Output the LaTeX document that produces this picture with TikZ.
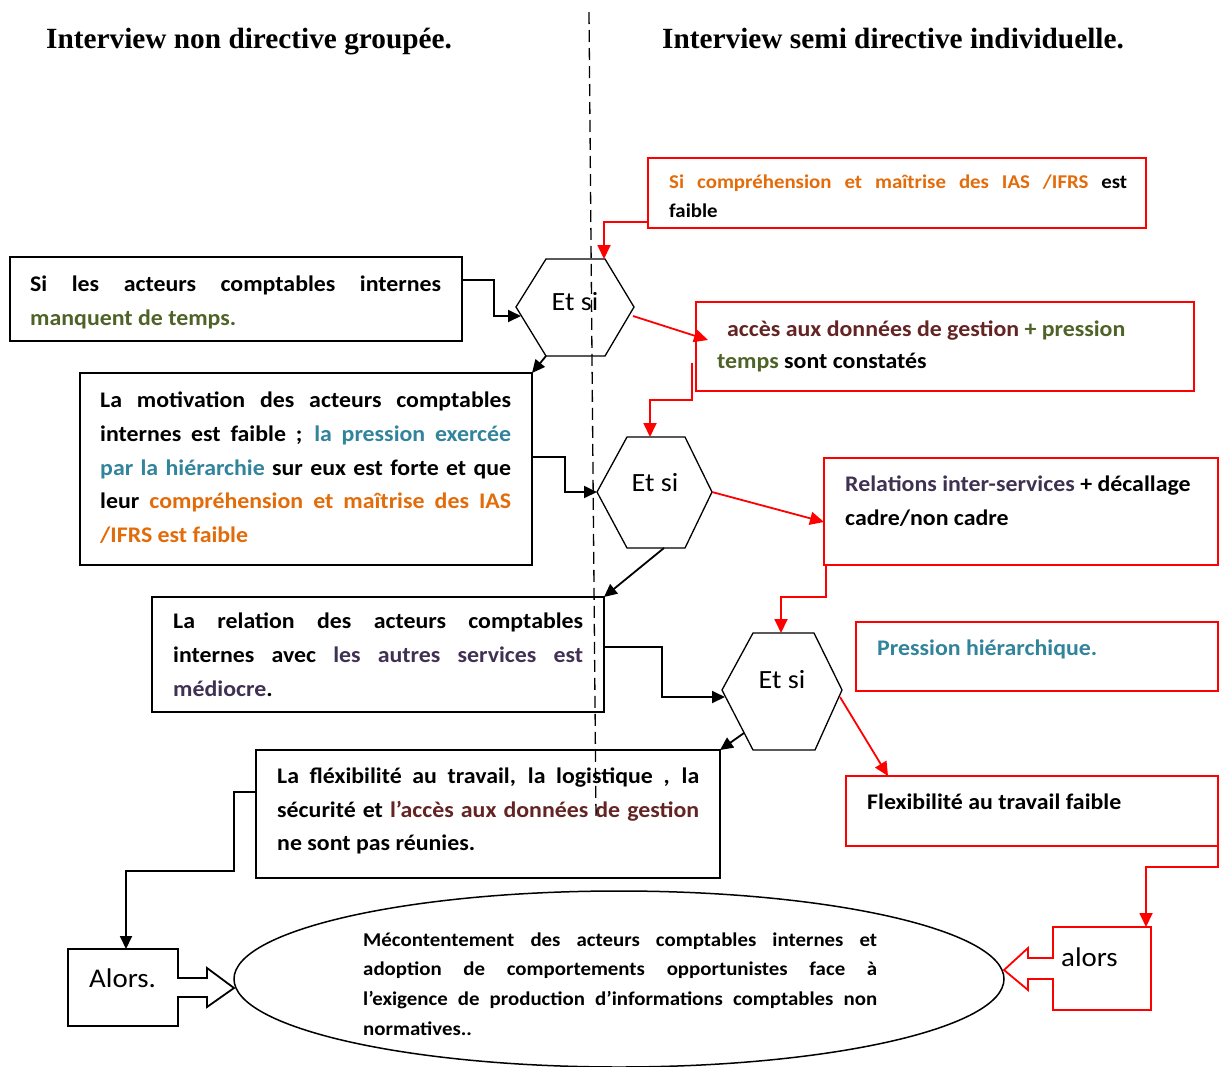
\documentclass[tikz,border=0pt]{standalone}
\usepackage{fontspec}
\setmainfont{Carlito}[FakeStretch=1.07]
\newfontfamily\ttlfont{Liberation Serif}
\usetikzlibrary{arrows.meta,shapes.geometric,calc}
\definecolor{cor}{HTML}{E36C0A}
\definecolor{cteal}{HTML}{31849B}
\definecolor{cgreen}{HTML}{4F6228}
\definecolor{cbrown}{HTML}{632423}
\definecolor{cpurple}{HTML}{403152}
\definecolor{cred}{HTML}{FF0000}
\newcommand{\jl}[2]{\makebox[#1][s]{#2}}
\begin{document}
\begin{tikzpicture}[x=1pt,y=-1pt,
  bbox/.style={draw=black,line width=1.8pt,inner sep=0pt,outer sep=0pt,anchor=north west},
  rbox/.style={draw=cred,line width=1.8pt,inner sep=0pt,outer sep=0pt,anchor=north west},
  hollow/.style={inner sep=0pt,outer sep=0pt,anchor=north west},
  txt/.style={inner sep=0pt,anchor=base west,font=\fontsize{22.3}{26}\selectfont\bfseries},
  stxt/.style={inner sep=0pt,anchor=base west,font=\fontsize{19.5}{23}\selectfont\bfseries},
  ttl/.style={inner sep=0pt,anchor=base west,font=\ttlfont\fontsize{29.3}{34}\selectfont\bfseries},
  etsi/.style={inner sep=0pt,anchor=base,font=\fontsize{26.3}{30}\selectfont},
  alorstxt/.style={inner sep=0pt,anchor=base west,font=\fontsize{27}{31}\selectfont},
  hexline/.style={draw=black,line width=1.3pt,line join=miter},
  barrow/.style={draw=black,line width=1.8pt,-{Triangle[length=13pt,width=12pt]}},
  rarrow/.style={draw=cred,line width=1.8pt,-{Triangle[length=14pt,width=13pt]}},
  vdash/.style={draw=black,line width=1.3pt,dash pattern=on 12pt off 6pt}
]
\useasboundingbox (0,0) rectangle (1226,1066);
\fill[white] (0,0) rectangle (1226,1066);

% titles
\node[ttl] (t1) at (46,48) {Interview non directive groupée.};
\node[ttl] (t2) at (662,48) {Interview semi directive individuelle.};

% black boxes
\node[bbox,minimum width=452pt,minimum height=84pt] (b1) at (10,257) {};
\node[bbox,minimum width=452pt,minimum height=192pt] (b2) at (80,373) {};
\node[bbox,minimum width=452pt,minimum height=115pt] (b3) at (152,597) {};
\node[bbox,minimum width=464pt,minimum height=128pt] (b4) at (256,750) {};

% red boxes
\node[rbox,minimum width=498pt,minimum height=70pt] (r1) at (648,158) {};
\node[rbox,minimum width=498pt,minimum height=89pt] (r2) at (696,302) {};
\node[rbox,minimum width=394pt,minimum height=107pt] (r3) at (824,458) {};
\node[rbox,minimum width=362pt,minimum height=69pt] (r4) at (856,622) {};
\node[rbox,minimum width=372pt,minimum height=70pt] (r5) at (846,776) {};

% box texts
\node[txt] at (30,291) {\jl{411pt}{Si les acteurs comptables internes}};
\node[txt] at (30,325) {\textcolor{cgreen}{manquent de temps.}};

\node[txt] at (100,407) {\jl{411pt}{La motivation des acteurs comptables}};
\node[txt] at (100,441) {\jl{411pt}{internes est faible ; \textcolor{cteal}{la pression exercée}}};
\node[txt] at (100,475) {\jl{411pt}{\textcolor{cteal}{par la hiérarchie} sur eux est forte et que}};
\node[txt] at (100,508) {\jl{411pt}{leur \textcolor{cor}{compréhension et maîtrise des IAS}}};
\node[txt] at (100,542) {\textcolor{cor}{/IFRS est faible}};

\node[txt] at (173,628) {\jl{410pt}{La relation des acteurs comptables}};
\node[txt] at (173,662) {\jl{410pt}{internes avec \textcolor{cpurple}{les autres services est}}};
\node[txt] at (173,696) {\textcolor{cpurple}{médiocre}.};

\node[txt] at (277,783) {\jl{422pt}{La fléxibilité au travail, la logistique , la}};
\node[txt] at (277,817) {\jl{422pt}{sécurité et \textcolor{cbrown}{l’accès aux données de gestion}}};
\node[txt] at (277,850) {ne sont pas réunies.};

\node[stxt] at (669,188) {\jl{458pt}{\textcolor{cor}{Si compréhension et maîtrise des IAS /IFRS} est}};
\node[stxt] at (669,217) {faible};

\node[txt] at (727,336) {\textcolor{cbrown}{accès aux données de gestion} \textcolor{cgreen}{+ pression}};
\node[txt] at (717,368) {\textcolor{cgreen}{temps} sont constatés};

\node[txt] at (845,491) {\textcolor{cpurple}{Relations inter-services} + décallage};
\node[txt] at (845,525) {cadre/non cadre};

\node[txt] at (877,655) {\textcolor{cteal}{Pression hiérarchique.}};
\node[txt] at (867,809) {Flexibilité au travail faible};

% hexagons
\coordinate (h1l) at (516,307); \coordinate (h1tl) at (546,259); \coordinate (h1tr) at (605,259);
\coordinate (h1r) at (634,307); \coordinate (h1br) at (605,356); \coordinate (h1bl) at (546,356);
\draw[hexline] (h1l)--(h1tl)--(h1tr)--(h1r)--(h1br)--(h1bl)--cycle;
\node[etsi] (e1) at (575,310) {Et si};

\coordinate (h2l) at (597,492); \coordinate (h2tl) at (627,437); \coordinate (h2tr) at (685,437);
\coordinate (h2r) at (712,492); \coordinate (h2br) at (685,548); \coordinate (h2bl) at (627,548);
\draw[hexline] (h2l)--(h2tl)--(h2tr)--(h2r)--(h2br)--(h2bl)--cycle;
\node[etsi] (e2) at (655,491) {Et si};

\coordinate (h3l) at (722,690); \coordinate (h3tl) at (753,633); \coordinate (h3tr) at (814,633);
\coordinate (h3r) at (842,690); \coordinate (h3br) at (815,750); \coordinate (h3bl) at (753,750);
\draw[hexline] (h3l)--(h3tl)--(h3tr)--(h3r)--(h3br)--(h3bl)--cycle;
\node[etsi] (e3) at (782,688) {Et si};

% points on hexagon edges
\coordinate (h1in) at (521,316);
\coordinate (h1out) at (633,316);
\coordinate (h1top) at (604,259);
\coordinate (h2bot) at (664,548);
\coordinate (h2top) at (650,437);
\coordinate (h3in) at (725,697);
\coordinate (h3e) at (744,733);
\coordinate (h3top) at (781,633);
\coordinate (h3out) at (840,697);

% ellipse
\node[draw=black,line width=1.5pt,ellipse,minimum width=770pt,minimum height=176pt,inner sep=0pt] (el) at (619,979) {};
\node[stxt] at (363,946) {\jl{514pt}{Mécontentement des acteurs comptables internes et}};
\node[stxt] at (363,975) {\jl{514pt}{adoption de comportements opportunistes face à}};
\node[stxt] at (363,1005) {\jl{514pt}{l’exigence de production d’informations comptables non}};
\node[stxt] at (363,1035) {normatives..};

% Alors boxes with block arrows
\node[hollow,minimum width=110pt,minimum height=77pt] (al) at (68,949) {};
\draw[black,line width=1.8pt,line join=miter] (al.north west) -- (al.north east) -- ++(0,29) -- ++(29,0) -- ++(0,-10) -- (234,988) -- (207,1007) -- ++(0,-10) -- ++(-29,0) -- (al.south east) -- (al.south west) -- cycle;
\node[alorstxt] at (89,987) {Alors.};

\node[hollow,minimum width=98pt,minimum height=83pt] (ra) at (1053,927) {};
\draw[cred,line width=1.8pt,line join=miter] (ra.north west) -- (ra.north east) -- (ra.south east) -- (ra.south west) -- ++(0,-31) -- ++(-25,0) -- ++(0,11) -- (1004,970) -- (1028,948) -- ++(0,10) -- ++(25,0) -- cycle;
\node[alorstxt] at (1061,966) {alors};

% black connectors
\draw[barrow] ([yshift=-23pt]b1.north east) -- ++(32,0) |- (h1in);
\draw[barrow] (h1bl) -- (b2.north east);
\draw[barrow] ([yshift=-84pt]b2.north east) -- ++(33,0) |- (h2l);
\draw[barrow] (h2bot) -- (b3.north east);
\draw[barrow] ([yshift=-50pt]b3.north east) -- ++(58,0) |- (h3in);
\draw[barrow] (h3e) -- (b4.north east);
\draw[barrow] ([yshift=-42pt]b4.north west) -- ++(-22,0) -- ++(0,79) -| ([xshift=3pt]al.north);

% red connectors
\draw[rarrow] ([yshift=-64pt]r1.north west) -| (h1top);
\draw[rarrow] (h1out) -- ([xshift=12pt,yshift=-38pt]r2.north west);
\draw[rarrow] ([xshift=-4pt,yshift=-61pt]r2.north west) -- ++(0,37) -| (h2top);
\draw[rarrow] (h2r) -- ([yshift=-64pt]r3.north west);
\draw[rarrow] ([xshift=2pt]r3.south west) -- ++(0,32) -| (h3top);
\draw[rarrow] (h3out) -- ([xshift=42pt]r5.north west);
\draw[rarrow] (r5.south east) -- ++(0,21) -| ([xshift=-5pt]ra.north east);

% dashed separator
\coordinate (d1) at (589,12);
\coordinate (d2) at (596,818);
\draw[vdash] (d1) -- (d2);
\end{tikzpicture}
\end{document}
